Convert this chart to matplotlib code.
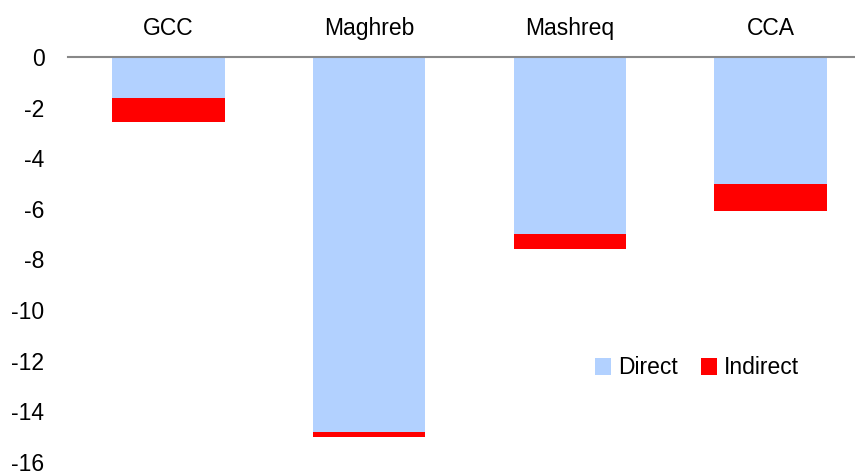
import matplotlib
matplotlib.use("Agg")
import matplotlib.pyplot as plt
import numpy as np

plt.rcParams['font.family'] = ['Liberation Sans', 'DejaVu Sans']

regions = ["GCC", "Maghreb", "Mashreq", "CCA"]
direct = [-1.6, -14.8, -7.0, -5.0]
indirect = [-0.95, -0.2, -0.6, -1.1]
yticks = [0, -2, -4, -6, -8, -10, -12, -14, -16]

fig = plt.figure(figsize=(8.55, 4.72), dpi=100)
ax = fig.add_axes([68 / 855, 10 / 472, 803 / 855, 405 / 472])

x = np.arange(len(regions))
ax.bar(x, direct, width=0.56, color="#b2d1ff", label="Direct")
ax.bar(x, indirect, width=0.56, bottom=direct, color="#ff0000", label="Indirect")

ax.set_xlim(-0.5, 3.5)
ax.set_ylim(-16, 0)
ax.set_yticks(yticks)
ax.set_yticklabels([str(v) for v in yticks], fontsize=16.5)
ax.xaxis.tick_top()
ax.set_xticks(x)
ax.set_xticklabels(regions, fontsize=16.5)
ax.tick_params(axis="both", length=0)
ax.tick_params(axis="x", pad=12)
ax.tick_params(axis="y", pad=17)

for s in ["left", "right", "bottom"]:
    ax.spines[s].set_visible(False)
ax.spines["top"].set_color("#888888")
ax.spines["top"].set_linewidth(1.5)

ax.legend(loc="center", bbox_to_anchor=(697 / 855, 104 / 472), bbox_transform=fig.transFigure,
          ncol=2, frameon=False, fontsize=16.5, handlelength=0.7, handleheight=0.7,
          handletextpad=0.3, columnspacing=1.0)

fig.savefig("out.png", dpi=100)
